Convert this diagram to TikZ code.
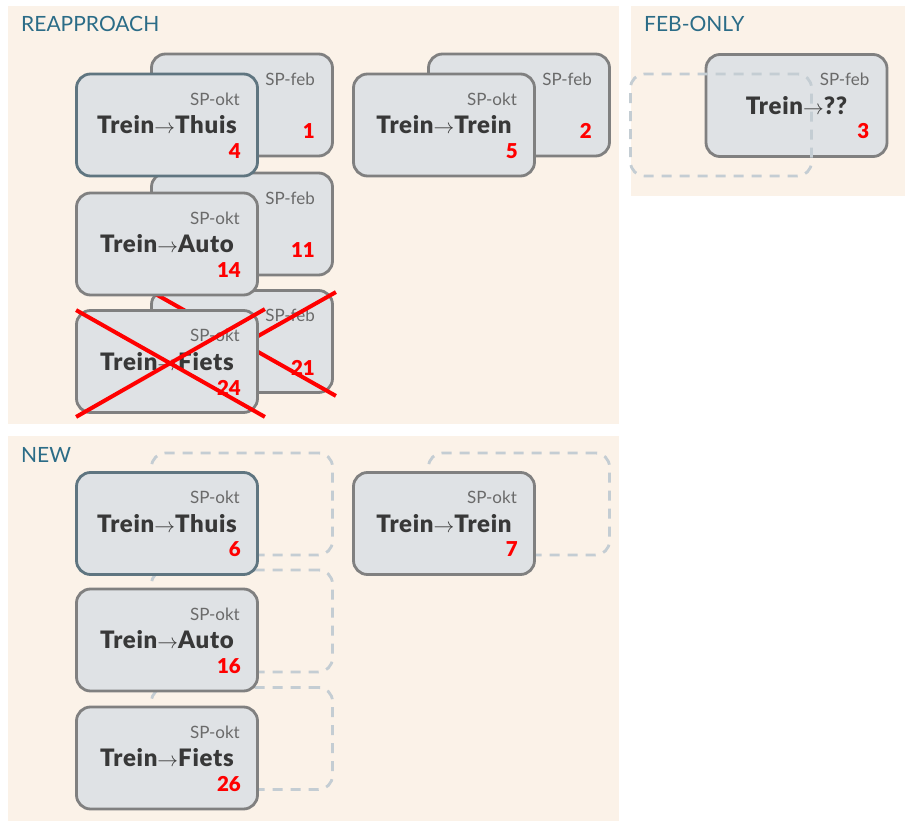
\documentclass[tikz,border=0pt]{standalone}
\usepackage{fontspec}
\setmainfont{Lato}[BoldFont={Lato Black}]
\usetikzlibrary{calc}
\definecolor{panelbg}{HTML}{FBF2E8}
\definecolor{cardbg}{HTML}{DFE2E5}
\definecolor{cardline}{HTML}{808080}
\definecolor{homeline}{HTML}{5F7580}
\definecolor{ghostline}{HTML}{C4CDD3}
\definecolor{titleblue}{HTML}{2B6C87}
\definecolor{sptext}{HTML}{6A6A6A}
\definecolor{maintext}{HTML}{383838}
\definecolor{numred}{HTML}{FF0000}
\newcommand\arr{{\fontsize{20}{20}\selectfont$\rightarrow$}}
\begin{document}
\begin{tikzpicture}[x=1pt,y=-1pt,
  panel/.style={fill=panelbg,draw=none},
  title/.style={anchor=west,inner sep=0pt,text=titleblue,font=\fontsize{21}{21}\selectfont},
  card/.style={rectangle,rounded corners=14pt,minimum width=181pt,minimum height=102pt,
    fill=cardbg,draw=cardline,line width=2.8pt,inner sep=0pt},
  homecard/.style={card,draw=homeline},
  ghost/.style={rectangle,rounded corners=14pt,minimum width=181pt,minimum height=102pt,
    draw=ghostline,line width=2.8pt,dash pattern=on 10pt off 8pt,inner sep=0pt},
  sp/.style={anchor=east,inner sep=0pt,text=sptext,font=\fontsize{17}{17}\selectfont},
  main/.style={inner sep=0pt,text=maintext,
    font=\bfseries\fontsize{24}{24}\selectfont\addfontfeature{LetterSpace=3}},
  num/.style={anchor=east,inner sep=0pt,text=numred,font=\bfseries\fontsize{20.5}{20.5}\selectfont},
  strike/.style={draw=numred,line width=4pt}]
\useasboundingbox (0,0) rectangle (905,821);
% panels
\fill[panel] (8,6) rectangle (619,424);
\fill[panel] (631,6) rectangle (905,196);
\fill[panel] (8,436) rectangle (619,821);
\node[title] (tre) at (21,24) {REAPPROACH};
\node[title] (tfo) at (644,24) {FEB-ONLY};
\node[title] (tnw) at (21,455) {NEW};

% ---- REAPPROACH: back (feb) cards
\node[card] (f1) at (242,105) {};
\node[sp] at ($(f1.center)+(73,-26)$) {SP-feb};
\node[num] at ($(f1.center)+(73,26)$) {1};
\node[card] (f2) at (519,105) {};
\node[sp] at ($(f2.center)+(73,-26)$) {SP-feb};
\node[num] at ($(f2.center)+(73,26)$) {2};
\node[card] (f11) at (242,224) {};
\node[sp] at ($(f11.center)+(73,-26)$) {SP-feb};
\node[num] at ($(f11.center)+(73,26)$) {11};
\node[card] (f21) at (242,341.5) {};
\node[sp] at ($(f21.center)+(73,-26)$) {SP-feb};
\node[num] at ($(f21.center)+(73,26)$) {21};
\draw[strike] ($(f21.north west)+(2,3)$) -- ($(f21.south east)+(2,2)$);
\draw[strike] ($(f21.south west)+(2,2)$) -- ($(f21.north east)+(2,3)$);

% ---- REAPPROACH: front (okt) cards
\node[homecard] (o4) at (167,125) {};
\node[sp] at ($(o4.center)+(73,-26)$) {SP-okt};
\node[main] at (o4.center) {Trein\arr Thuis};
\node[num] at ($(o4.center)+(74,26)$) {4};
\node[card] (o5) at (444,125) {};
\node[sp] at ($(o5.center)+(73,-26)$) {SP-okt};
\node[main] at (o5.center) {Trein\arr Trein};
\node[num] at ($(o5.center)+(74,26)$) {5};
\node[card] (o14) at (167,244) {};
\node[sp] at ($(o14.center)+(73,-26)$) {SP-okt};
\node[main] at (o14.center) {Trein\arr Auto};
\node[num] at ($(o14.center)+(74,26)$) {14};
\node[card] (o24) at (167,361.5) {};
\node[sp] at ($(o24.center)+(73,-26)$) {SP-okt};
\node[main] at (o24.center) {Trein\arr Fiets};
\node[num] at ($(o24.center)+(74,26)$) {24};
\draw[strike] ($(o24.north west)+(1,1)$) -- ($(o24.south east)+(6,3)$);
\draw[strike] ($(o24.south west)+(1,3)$) -- ($(o24.north east)+(6,0)$);

% ---- FEB-ONLY
\node[card] (f3) at (796.5,105.5) {};
\node[sp] at ($(f3.center)+(73,-26)$) {SP-feb};
\node[main] at (f3.center) {Trein\arr ??};
\node[num] at ($(f3.center)+(73,26)$) {3};
\node[ghost] (g3) at (721,125) {};

% ---- NEW: missing feb counterparts
\node[ghost] (g6) at (242,504) {};
\node[ghost] (g7) at (519,504) {};
\node[ghost] (g16) at (242,621) {};
\node[ghost] (g26) at (242,738.5) {};

% ---- NEW: okt cards
\node[homecard] (o6) at (167,523.5) {};
\node[sp] at ($(o6.center)+(73,-26)$) {SP-okt};
\node[main] at (o6.center) {Trein\arr Thuis};
\node[num] at ($(o6.center)+(74,26)$) {6};
\node[card] (o7) at (444,523.5) {};
\node[sp] at ($(o7.center)+(73,-26)$) {SP-okt};
\node[main] at (o7.center) {Trein\arr Trein};
\node[num] at ($(o7.center)+(74,26)$) {7};
\node[card] (o16) at (167,640) {};
\node[sp] at ($(o16.center)+(73,-26)$) {SP-okt};
\node[main] at (o16.center) {Trein\arr Auto};
\node[num] at ($(o16.center)+(74,26)$) {16};
\node[card] (o26) at (167,758) {};
\node[sp] at ($(o26.center)+(73,-26)$) {SP-okt};
\node[main] at (o26.center) {Trein\arr Fiets};
\node[num] at ($(o26.center)+(74,26)$) {26};
\end{tikzpicture}
\end{document}
